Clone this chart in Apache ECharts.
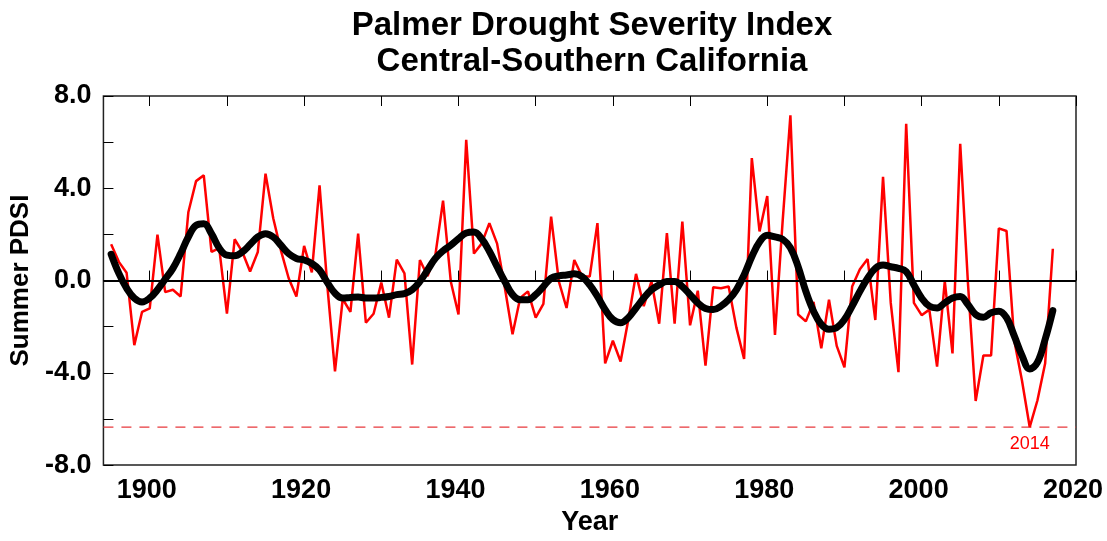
<!DOCTYPE html>
<html>
<head>
<meta charset="utf-8">
<title>Palmer Drought Severity Index</title>
<script src="https://cdn.jsdelivr.net/npm/echarts@6.0.0/dist/echarts.min.js"></script>
<style>
  html, body { margin: 0; padding: 0; background: #fff; }
  #chart { width: 1107px; height: 541px; }
</style>
</head>
<body>
<div id="chart"></div>
<script>
// summer PDSI, one value per year from 1895
const startYear = 1895
const pdsi = [
  1.57, 0.81, 0.34, -2.8, -1.36,
  -1.21, 1.99, -0.5, -0.4, -0.69, 2.96, 4.31, 4.56, 1.24, 1.41,
  -1.43, 1.79, 1.24, 0.39, 1.24, 4.63, 2.7, 1.3, 0.1, -0.69,
  1.5, 0.35, 4.13, -0.2, -3.94, -0.8, -1.36, 2.03, -1.83, -1.44,
  -0.09, -1.61, 0.91, 0.31, -3.64, 0.89, 0.19, 1.1, 3.46, -0.04,
  -1.47, 6.1, 1.17, 1.6, 2.49, 1.6, -0.3, -2.33, -0.75, -0.47,
  -1.61, -1.01, 2.77, -0.04, -1.19, 0.89, 0.2, 0.17, 2.49, -3.59,
  -2.61, -3.51, -1.7, 0.29, -1.11, -0.04, -1.87, 2.06, -1.87, 2.56,
  -1.94, -0.44, -3.69, -0.29, -0.33, -0.26, -2.04, -3.4, 5.31, 2.13,
  3.66, -2.36, 2.6, 7.16, -1.47, -1.77, -0.93, -2.94, -0.83, -2.83,
  -3.76, -0.26, 0.49, 0.93, -1.71, 4.5, -0.97, -3.97, 6.8, -0.97,
  -1.5, -1.26, -3.73, -0.03, -3.16, 5.93, -0.1, -5.22, -3.25, -3.25,
  2.26, 2.15, -2.6, -4.33, -6.35, -5.2, -3.6, 1.38
]
// smoothed curve
const smoothed = [
  1.14, 0.31, -0.33, -0.76, -0.93,
  -0.76, -0.4, 0.06, 0.53, 1.17, 1.89, 2.39, 2.46, 2.03, 1.41,
  1.1, 1.07, 1.24, 1.56, 1.89, 2.03, 1.89, 1.53, 1.17, 0.96,
  0.89, 0.74, 0.46, -0.08, -0.55, -0.76, -0.73, -0.71, -0.76, -0.76,
  -0.73, -0.69, -0.61, -0.57, -0.4, -0.04, 0.46, 0.96, 1.29, 1.53,
  1.81, 2.06, 2.1, 1.81, 1.27, 0.6, -0.04, -0.61, -0.83, -0.83,
  -0.61, -0.26, 0.1, 0.2, 0.24, 0.29, 0.17, -0.19, -0.69, -1.26,
  -1.69, -1.83, -1.61, -1.19, -0.76, -0.4, -0.19, -0.04, -0.04, -0.26,
  -0.61, -0.97, -1.21, -1.26, -1.11, -0.83, -0.4, 0.24, 1.03, 1.67,
  1.96, 1.89, 1.79, 1.42, 0.6, -0.47, -1.33, -1.9, -2.11, -2.04,
  -1.69, -1.11, -0.47, 0.1, 0.53, 0.67, 0.6, 0.53, 0.39, -0.19,
  -0.76, -1.11, -1.19, -0.97, -0.76, -0.69, -1.04, -1.47, -1.59, -1.4,
  -1.33, -1.61, -2.4, -3.25, -3.83, -3.55, -2.55, -1.3
]
const tickYears = [1900, 1910, 1920, 1930, 1940, 1950, 1960, 1970, 1980, 1990, 2000, 2010, 2020]
const labelYears = [1900, 1920, 1940, 1960, 1980, 2000, 2020]
const markYear = 2014
const xMin = 1894
const xMax = 2020

const years = pdsi.map((v, i) => startYear + i)
const redData = years.map((y, i) => [y, pdsi[i]])
const blackData = years.map((y, i) => [y, smoothed[i]])
const markValue = pdsi[years.indexOf(markYear)]

const font = 'Liberation Sans, Arial, Helvetica, sans-serif'

const chart = echarts.init(document.getElementById('chart'))

const option = {
  animation: false,
  backgroundColor: '#fff',
  graphic: [{
    type: 'text',
    x: 592,
    y: 8,
    style: {
      text: 'Palmer Drought Severity Index\nCentral-Southern California',
      align: 'center',
      fontSize: 33,
      fontWeight: 'bold',
      fontFamily: font,
      lineHeight: 36,
      fill: '#000'
    }
  }],
  grid: {
    left: 103,
    right: 31,
    top: 96,
    bottom: 72,
    show: true,
    borderColor: '#222',
    borderWidth: 1.5,
    backgroundColor: '#fff'
  },
  xAxis: [{
    type: 'value',
    min: xMin,
    max: xMax,
    position: 'bottom',
    axisLine: { show: false },
    splitLine: { show: false },
    axisTick: {
      show: true, inside: true, length: 10,
      customValues: tickYears,
      lineStyle: { color: '#000', width: 1 }
    },
    axisLabel: {
      customValues: labelYears,
      formatter: v => String(v),
      margin: 12,
      padding: [0, 6, 0, 0],
      fontSize: 27,
      fontWeight: 'bold',
      fontFamily: font,
      color: '#000'
    },
    name: 'Year',
    nameLocation: 'middle',
    nameGap: 41,
    nameTextStyle: { fontSize: 27, fontWeight: 'bold', fontFamily: font, color: '#000' }
  }, {
    type: 'value',
    min: xMin,
    max: xMax,
    position: 'top',
    axisLine: { show: false },
    splitLine: { show: false },
    axisTick: {
      show: true, inside: true, length: 10,
      customValues: tickYears,
      lineStyle: { color: '#000', width: 1 }
    },
    axisLabel: { show: false }
  }],
  yAxis: {
    type: 'value',
    min: -8,
    max: 8,
    interval: 2,
    axisLine: { show: false },
    splitLine: { show: false },
    axisTick: { show: true, inside: true, length: 10, lineStyle: { color: '#000', width: 1 } },
    axisLabel: {
      margin: 12,
      fontSize: 27,
      fontWeight: 'bold',
      fontFamily: font,
      color: '#000',
      formatter: v => (v % 4 === 0 ? v.toFixed(1) : '')
    },
    name: 'Summer PDSI',
    nameLocation: 'middle',
    nameGap: 62,
    nameRotate: 90,
    nameTextStyle: { fontSize: 26, fontWeight: 'bold', fontFamily: font, color: '#000' }
  },
  series: [{
    // dashed reference line at the 2014 value
    name: 'Low',
    type: 'line',
    data: [[xMin, markValue], [xMax, markValue]],
    symbol: 'none',
    silent: true,
    z: 1,
    lineStyle: { color: '#e8383d', type: [10, 8], width: 1.2 }
  }, {
    name: 'PDSI',
    type: 'line',
    data: redData,
    symbol: 'none',
    z: 2,
    lineStyle: { color: '#ff0000', width: 2.5 },
    markPoint: {
      silent: true,
      symbol: 'circle',
      symbolSize: 1,
      itemStyle: { color: 'rgba(0,0,0,0)' },
      label: {
        show: true,
        position: 'bottom',
        distance: 7,
        formatter: String(markYear),
        color: '#ff0000',
        fontSize: 18,
        fontFamily: font
      },
      data: [{ coord: [markYear, markValue] }]
    }
  }, {
    name: 'Smoothed',
    type: 'line',
    data: blackData,
    symbol: 'none',
    smooth: 0.4,
    z: 3,
    lineStyle: { color: '#000', width: 7, cap: 'round', join: 'round' },
    markLine: {
      silent: true,
      symbol: 'none',
      label: { show: false },
      lineStyle: { color: '#000', type: 'solid', width: 2 },
      data: [{ yAxis: 0 }]
    }
  }]
}

chart.setOption(option)
</script>
</body>
</html>
